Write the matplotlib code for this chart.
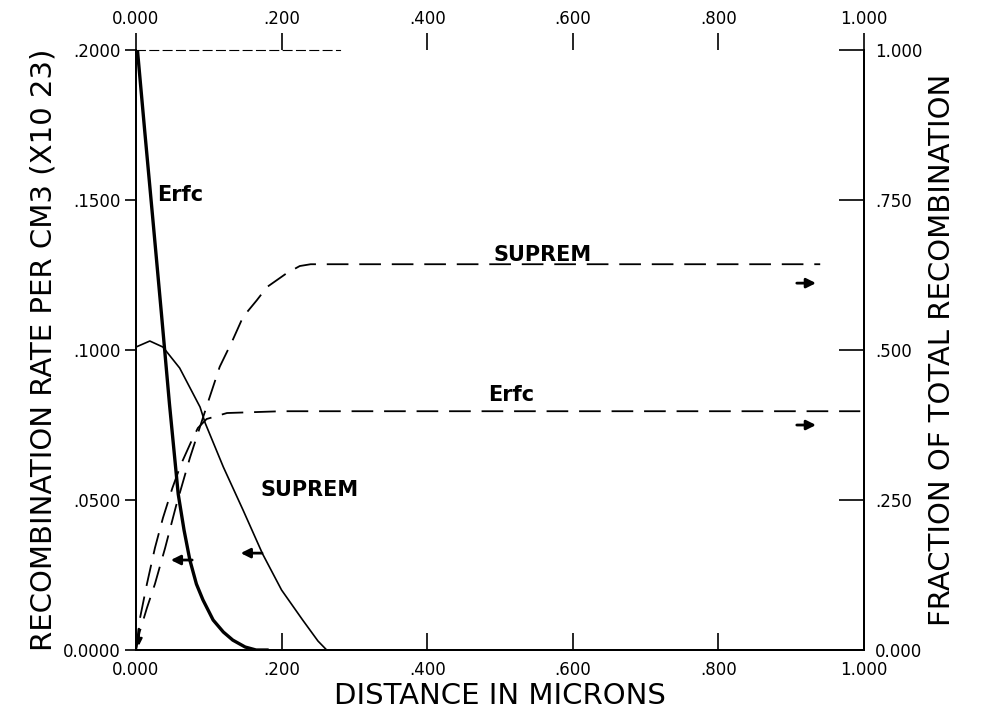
import matplotlib
matplotlib.use("Agg")
import matplotlib.pyplot as plt

# recombination rate (x1e23 per cm3) vs distance (microns)
erfc_x = [0.0, 0.002, 0.012, 0.023, 0.035, 0.046, 0.058, 0.066, 0.074, 0.083,
          0.092, 0.106, 0.120, 0.133, 0.150, 0.165, 0.180]
erfc_y = [0.200, 0.200, 0.173, 0.144, 0.112, 0.082, 0.052, 0.040, 0.030, 0.022,
          0.0167, 0.010, 0.006, 0.0033, 0.001, 0.0, 0.0]

suprem_x = [0.0, 0.019, 0.037, 0.060, 0.088, 0.095, 0.120, 0.147, 0.174, 0.200, 0.229,
            0.250, 0.262, 0.28]
suprem_y = [0.101, 0.103, 0.101, 0.094, 0.081, 0.0757, 0.061, 0.0467, 0.032, 0.020, 0.010,
            0.003, 0.0, 0.0]

# fraction of total recombination (right axis)
erfc_fx = [0.0, 0.005, 0.015, 0.026, 0.037, 0.050, 0.062, 0.075, 0.085, 0.097, 0.125,
           0.20, 0.995]
erfc_fy = [0.0, 0.05, 0.11, 0.17, 0.22, 0.27, 0.31, 0.345, 0.37, 0.385, 0.395, 0.398, 0.398]

suprem_fx = [0.0, 0.005, 0.015, 0.026, 0.040, 0.055, 0.074, 0.100, 0.115, 0.133, 0.147,
             0.166, 0.180, 0.207, 0.225, 0.240, 0.940]
suprem_fy = [0.0, 0.03, 0.07, 0.11, 0.17, 0.24, 0.32, 0.417, 0.472, 0.517, 0.555,
             0.583, 0.605, 0.628, 0.640, 0.643, 0.643]

x_ticks = [0.0, 0.2, 0.4, 0.6, 0.8, 1.0]
x_labels = ["0.000", ".200", ".400", ".600", ".800", "1.000"]
y_ticks = [0.0, 0.05, 0.10, 0.15, 0.20]
y_labels = ["0.0000", ".0500", ".1000", ".1500", ".2000"]
f_ticks = [0.0, 0.25, 0.5, 0.75, 1.0]
f_labels = ["0.000", ".250", ".500", ".750", "1.000"]

fig = plt.figure(figsize=(9.89, 7.22), dpi=100)
ax = fig.add_axes([0.1375, 0.0997, 0.736, 0.831])
ax2 = ax.twinx()

ax.plot(erfc_x, erfc_y, color="black", lw=2.4)
ax.plot(suprem_x, suprem_y, color="black", lw=1.2)
ax2.plot(erfc_fx, erfc_fy, color="black", lw=1.3, dashes=(12, 6))
ax2.plot(suprem_fx, suprem_fy, color="black", lw=1.3, dashes=(12, 6))

ax.set_xlim(0, 1.0)
ax.set_ylim(0, 0.2)
ax2.set_ylim(0, 1.0)

ax.set_xticks(x_ticks)
ax.set_xticklabels(x_labels, fontsize=12)
ax.set_yticks(y_ticks)
ax.set_yticklabels(y_labels, fontsize=12)
ax2.set_yticks(f_ticks)
ax2.set_yticklabels(f_labels, fontsize=12)

ax.tick_params(axis="x", direction="in", length=12, width=1.2, pad=8, top=False)
ax.tick_params(axis="y", direction="out", length=8, width=1.2, pad=3)
ax2.tick_params(axis="y", direction="in", length=18, width=1.2, pad=8)

# top axis: ticks pointing up, only a short dashed stretch of the line drawn
top = ax.secondary_xaxis("top")
top.set_xticks(x_ticks)
top.set_xticklabels(x_labels, fontsize=12)
top.tick_params(direction="out", length=12, width=1.2, pad=4)
top.spines["top"].set_visible(False)
ax.spines["top"].set_bounds(0, 0.28)
ax.spines["top"].set_linestyle((0, (8, 4)))
ax2.spines["top"].set_visible(False)
for s in ["left", "right", "bottom"]:
    ax.spines[s].set_linewidth(1.4)
    ax2.spines[s].set_linewidth(1.4)

ax.set_xlabel("DISTANCE IN MICRONS", fontsize=21, labelpad=2)
ax.set_ylabel("RECOMBINATION RATE PER CM3 (X10 23)", fontsize=21, labelpad=4)
ax2.set_ylabel("FRACTION OF TOTAL RECOMBINATION", fontsize=21, labelpad=4)

ax.text(0.029, 0.1517, "Erfc", fontsize=15, fontweight="bold", va="center")
ax.text(0.558, 0.1317, "SUPREM", fontsize=15, fontweight="bold", va="center", ha="center")
ax.text(0.516, 0.085, "Erfc", fontsize=15, fontweight="bold", va="center", ha="center")
ax.text(0.239, 0.0533, "SUPREM", fontsize=15, fontweight="bold", va="center", ha="center")

arrow = dict(arrowstyle="-|>", color="black", lw=2, mutation_scale=14)
ax.annotate("", xy=(0.044, 0.030), xytext=(0.081, 0.030), arrowprops=arrow)
ax.annotate("", xy=(0.140, 0.0323), xytext=(0.177, 0.0323), arrowprops=arrow)
ax.annotate("", xy=(0.938, 0.1223), xytext=(0.904, 0.1223), arrowprops=arrow)
ax.annotate("", xy=(0.938, 0.075), xytext=(0.904, 0.075), arrowprops=arrow)
ax.annotate("", xy=(0.004, 0.0005), xytext=(0.004, 0.008),
            arrowprops=dict(arrowstyle="-|>", color="black", lw=1.5, mutation_scale=10))

fig.savefig("out.png", dpi=100)
